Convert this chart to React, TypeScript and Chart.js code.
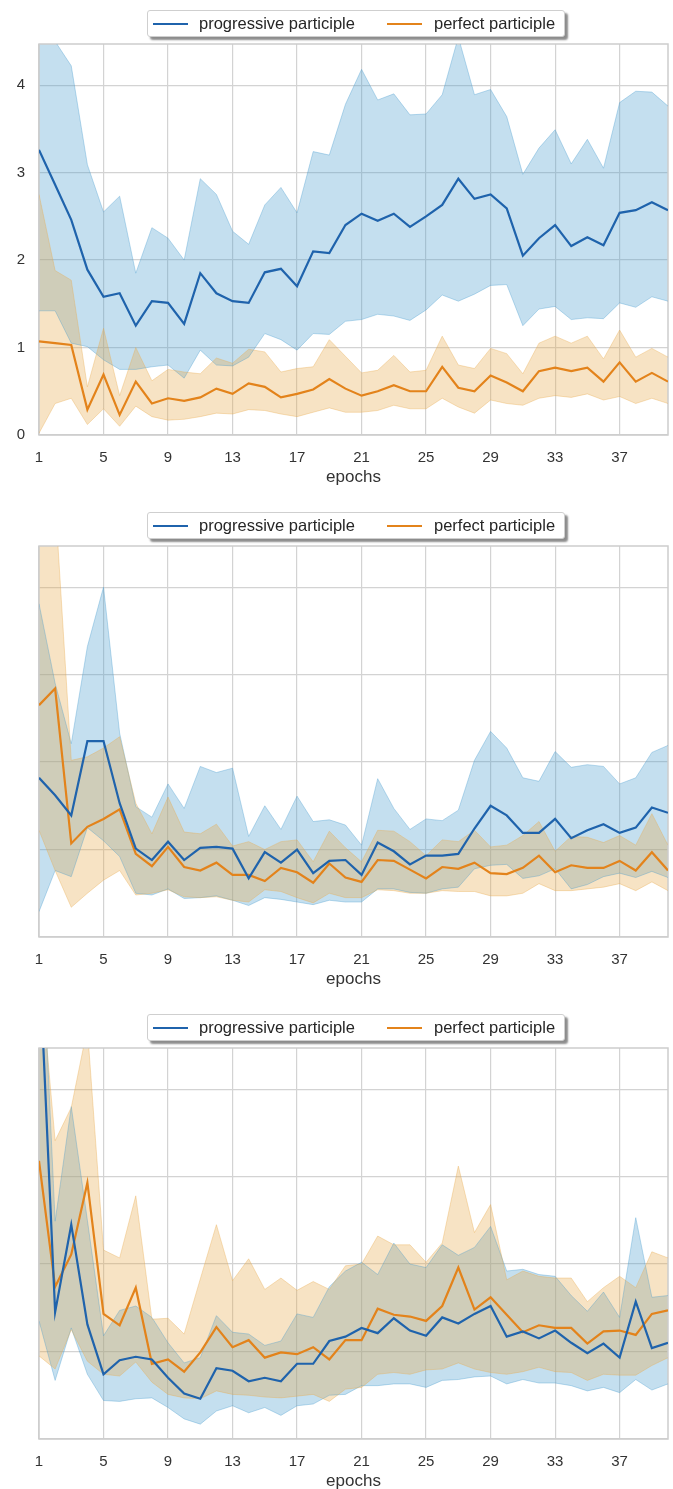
import React, { useEffect, useRef } from 'react';
import { Chart, registerables } from 'chart.js';

Chart.register(...registerables);

// ---------- data ----------
const EPOCHS = [1, 2, 3, 4, 5, 6, 7, 8, 9, 10, 11, 12, 13, 14, 15, 16, 17, 18, 19, 20, 21, 22, 23, 24, 25, 26, 27, 28, 29, 30, 31, 32, 33, 34, 35, 36, 37, 38, 39, 40];
const X_TICKS = [1, 5, 9, 13, 17, 21, 25, 29, 33, 37];
const Y_TICKS = [0, 1, 2, 3, 4];
const SERIES_NAMES = ['progressive participle', 'perfect participle'];
const X_TITLE = 'epochs';

// Panel 1
const C1_PROG_MEAN = [3.26, 2.86, 2.46, 1.89, 1.58, 1.62, 1.25, 1.53, 1.51, 1.27, 1.85, 1.62, 1.53, 1.51, 1.86, 1.90, 1.70, 2.10, 2.08, 2.40, 2.53, 2.45, 2.53, 2.38, 2.50, 2.63, 2.93, 2.70, 2.75, 2.59, 2.05, 2.25, 2.40, 2.16, 2.26, 2.17, 2.54, 2.57, 2.66, 2.57];
const C1_PROG_HIGH = [4.9, 4.5, 4.22, 3.09, 2.55, 2.73, 1.85, 2.37, 2.25, 2.00, 2.93, 2.75, 2.33, 2.18, 2.63, 2.83, 2.54, 3.24, 3.20, 3.78, 4.18, 3.83, 3.90, 3.66, 3.67, 3.89, 4.55, 3.89, 3.95, 3.64, 2.98, 3.28, 3.49, 3.10, 3.38, 3.05, 3.80, 3.93, 3.92, 3.76];
const C1_PROG_LOW = [1.42, 1.42, 1.05, 1.01, 0.86, 0.75, 0.75, 0.78, 0.80, 0.65, 0.97, 0.80, 0.79, 0.89, 1.16, 1.09, 0.97, 1.16, 1.15, 1.30, 1.32, 1.38, 1.36, 1.31, 1.43, 1.60, 1.53, 1.61, 1.71, 1.72, 1.25, 1.44, 1.47, 1.32, 1.34, 1.33, 1.51, 1.46, 1.58, 1.53];
const C1_PERF_MEAN = [1.07, 1.05, 1.03, 0.29, 0.69, 0.23, 0.61, 0.36, 0.42, 0.39, 0.43, 0.53, 0.47, 0.59, 0.55, 0.43, 0.47, 0.52, 0.64, 0.53, 0.45, 0.50, 0.57, 0.50, 0.50, 0.78, 0.54, 0.50, 0.68, 0.60, 0.50, 0.73, 0.77, 0.73, 0.77, 0.61, 0.83, 0.61, 0.71, 0.61];
const C1_PERF_HIGH = [2.75, 1.88, 1.77, 0.55, 1.22, 0.45, 1.00, 0.62, 0.75, 0.72, 0.70, 0.88, 0.82, 0.98, 0.95, 0.72, 0.76, 0.78, 1.09, 0.90, 0.71, 0.74, 0.91, 0.72, 0.74, 1.13, 0.80, 0.76, 0.99, 0.93, 0.70, 1.05, 1.13, 1.05, 1.13, 0.87, 1.20, 0.89, 0.99, 0.89];
const C1_PERF_LOW = [0.02, 0.36, 0.42, 0.12, 0.30, 0.10, 0.33, 0.21, 0.17, 0.18, 0.21, 0.25, 0.24, 0.29, 0.28, 0.24, 0.21, 0.26, 0.31, 0.26, 0.26, 0.28, 0.34, 0.30, 0.30, 0.42, 0.32, 0.25, 0.40, 0.36, 0.34, 0.42, 0.45, 0.43, 0.47, 0.40, 0.44, 0.36, 0.42, 0.36];

// Panel 2
const C2_PROG_MEAN = [1.82, 1.62, 1.39, 2.24, 2.24, 1.53, 1.01, 0.88, 1.09, 0.88, 1.02, 1.03, 1.01, 0.67, 0.97, 0.85, 1.00, 0.73, 0.87, 0.88, 0.71, 1.08, 0.98, 0.83, 0.93, 0.93, 0.95, 1.24, 1.50, 1.39, 1.19, 1.19, 1.35, 1.13, 1.22, 1.29, 1.19, 1.25, 1.48, 1.42];
const C2_PROG_HIGH = [3.81, 2.90, 2.21, 3.32, 4.00, 2.33, 1.49, 1.37, 1.75, 1.47, 1.95, 1.88, 1.93, 1.15, 1.50, 1.23, 1.61, 1.32, 1.34, 1.28, 1.05, 1.81, 1.47, 1.23, 1.35, 1.33, 1.45, 2.02, 2.35, 2.16, 1.82, 1.78, 2.12, 1.94, 1.97, 1.95, 1.75, 1.82, 2.11, 2.19];
const C2_PROG_LOW = [0.29, 0.76, 0.69, 1.25, 1.10, 0.92, 0.50, 0.48, 0.55, 0.44, 0.45, 0.47, 0.42, 0.36, 0.45, 0.43, 0.40, 0.37, 0.42, 0.40, 0.40, 0.55, 0.55, 0.51, 0.50, 0.55, 0.57, 0.78, 0.82, 0.83, 0.67, 0.70, 0.78, 0.55, 0.60, 0.69, 0.73, 0.68, 0.75, 0.68];
const C2_PERF_MEAN = [2.65, 2.84, 1.07, 1.26, 1.35, 1.46, 0.95, 0.81, 1.03, 0.80, 0.76, 0.85, 0.71, 0.71, 0.64, 0.79, 0.74, 0.62, 0.84, 0.68, 0.63, 0.88, 0.87, 0.77, 0.67, 0.80, 0.78, 0.85, 0.73, 0.72, 0.79, 0.93, 0.74, 0.82, 0.79, 0.79, 0.87, 0.76, 0.97, 0.76];
const C2_PERF_HIGH = [4.8, 5.0, 2.02, 2.06, 2.16, 2.29, 1.53, 1.18, 1.60, 1.20, 1.18, 1.29, 1.04, 1.09, 1.00, 1.09, 1.11, 0.86, 1.21, 1.02, 0.86, 1.22, 1.21, 1.09, 0.93, 1.11, 1.09, 1.22, 1.03, 1.05, 1.16, 1.32, 0.98, 1.15, 1.14, 1.08, 1.16, 1.05, 1.41, 1.05];
const C2_PERF_LOW = [1.22, 0.76, 0.34, 0.50, 0.65, 0.76, 0.48, 0.50, 0.54, 0.46, 0.45, 0.46, 0.42, 0.40, 0.54, 0.52, 0.45, 0.39, 0.50, 0.45, 0.45, 0.54, 0.53, 0.50, 0.50, 0.53, 0.52, 0.52, 0.47, 0.47, 0.50, 0.61, 0.53, 0.53, 0.55, 0.57, 0.61, 0.53, 0.63, 0.53];

// Panel 3
const C3_PROG_MEAN = [5.6, 1.45, 2.45, 1.31, 0.74, 0.90, 0.94, 0.91, 0.70, 0.52, 0.46, 0.81, 0.78, 0.66, 0.70, 0.66, 0.86, 0.86, 1.12, 1.17, 1.27, 1.21, 1.38, 1.24, 1.18, 1.39, 1.32, 1.43, 1.52, 1.17, 1.23, 1.15, 1.24, 1.10, 0.98, 1.09, 0.93, 1.57, 1.04, 1.10];
const C3_PROG_HIGH = [6.5, 2.49, 3.80, 2.50, 1.18, 1.47, 1.52, 1.39, 1.10, 0.87, 0.93, 1.41, 1.22, 1.20, 1.07, 1.12, 1.43, 1.39, 1.74, 1.92, 2.02, 1.88, 2.24, 2.00, 1.96, 2.22, 2.10, 2.19, 2.43, 1.92, 1.94, 1.88, 1.86, 1.64, 1.46, 1.68, 1.39, 2.53, 1.62, 1.64];
const C3_PROG_LOW = [1.35, 0.67, 1.27, 0.74, 0.44, 0.43, 0.46, 0.47, 0.36, 0.23, 0.17, 0.32, 0.38, 0.30, 0.36, 0.27, 0.38, 0.40, 0.50, 0.51, 0.61, 0.61, 0.63, 0.63, 0.59, 0.67, 0.68, 0.71, 0.72, 0.63, 0.68, 0.64, 0.64, 0.61, 0.55, 0.59, 0.53, 0.68, 0.56, 0.63];
const C3_PERF_MEAN = [3.18, 1.74, 2.11, 2.93, 1.43, 1.30, 1.73, 0.86, 0.91, 0.77, 0.99, 1.28, 1.05, 1.13, 0.93, 0.99, 0.97, 1.05, 0.91, 1.13, 1.13, 1.49, 1.42, 1.40, 1.35, 1.52, 1.96, 1.48, 1.62, 1.42, 1.22, 1.30, 1.27, 1.27, 1.09, 1.23, 1.24, 1.19, 1.43, 1.47];
const C3_PERF_HIGH = [5.5, 3.41, 3.79, 4.7, 2.16, 2.07, 2.78, 1.37, 1.38, 1.20, 1.83, 2.45, 1.81, 2.06, 1.71, 1.84, 1.70, 1.80, 1.71, 1.98, 2.00, 2.32, 2.22, 2.22, 2.02, 2.24, 3.12, 2.36, 2.68, 1.82, 1.92, 1.86, 1.84, 1.84, 1.57, 1.73, 1.86, 1.73, 2.14, 2.07];
const C3_PERF_LOW = [0.95, 0.80, 1.25, 0.89, 0.74, 0.72, 0.88, 0.65, 0.51, 0.47, 0.46, 0.55, 0.51, 0.50, 0.48, 0.47, 0.49, 0.51, 0.43, 0.57, 0.59, 0.74, 0.76, 0.74, 0.79, 0.80, 0.87, 0.80, 0.76, 0.74, 0.77, 0.82, 0.77, 0.76, 0.67, 0.74, 0.73, 0.73, 0.84, 0.93];

// ---------- style ----------
const FONT = "'Liberation Sans', Arial, sans-serif";
const BLUE = '#1f63ac';
const ORANGE = '#e3831b';
const BLUE_FILL = 'rgba(70,155,205,0.32)';
const ORANGE_FILL = 'rgba(232,170,75,0.33)';
const BLUE_EDGE = 'rgba(70,155,205,0.35)';
const ORANGE_EDGE = 'rgba(232,170,75,0.35)';
const GRID = '#d3d3d3';
const TEXT = '#333333';

const framePlugin = {
  id: 'frame',
  beforeDatasetsDraw(chart: any) {
    const { ctx, chartArea } = chart;
    const { left, top, right, bottom } = chartArea;
    ctx.save();
    ctx.strokeStyle = '#cdcdcd';
    ctx.lineWidth = 1.5;
    ctx.strokeRect(left, top, right - left, bottom - top);
    ctx.restore();
  },
};

type PanelProps = {
  progMean: number[]; progLow: number[]; progHigh: number[];
  perfMean: number[]; perfLow: number[]; perfHigh: number[];
  showYLabels: boolean;
};

function Legend() {
  const textStyle: React.CSSProperties = {
    position: 'absolute', top: 0, lineHeight: '25px', whiteSpace: 'nowrap',
  };
  const lineStyle: React.CSSProperties = {
    position: 'absolute', top: 12, width: 35, height: 2,
  };
  return (
    <div
      style={{
        position: 'absolute', left: 147, top: 10, width: 418, height: 27,
        boxSizing: 'border-box', border: '1px solid #cfcfcf', borderRadius: 3,
        background: '#ffffff', boxShadow: '3px 3px 2px rgba(0,0,0,0.45)',
        fontFamily: FONT, fontSize: 16.5, color: '#262626',
      }}
    >
      <span style={{ ...lineStyle, left: 5, background: BLUE }} />
      <span style={{ ...textStyle, left: 51 }}>{SERIES_NAMES[0]}</span>
      <span style={{ ...lineStyle, left: 239, background: ORANGE }} />
      <span style={{ ...textStyle, left: 286 }}>{SERIES_NAMES[1]}</span>
    </div>
  );
}

function Panel(props: PanelProps) {
  const ref = useRef<HTMLCanvasElement>(null);
  useEffect(() => {
    if (!ref.current) return;
    const pts = (arr: number[]) => EPOCHS.map((e, i) => ({ x: e, y: arr[i] }));
    const line = (label: string, arr: number[], color: string, width: number, fill: any, bg?: string) => ({
      label, data: pts(arr), borderColor: color, borderWidth: width, pointRadius: 0,
      pointHoverRadius: 0, tension: 0, fill, backgroundColor: bg || 'transparent',
    });
    const chart = new Chart(ref.current, {
      type: 'line',
      data: {
        datasets: [
          line(SERIES_NAMES[0], props.progMean, BLUE, 2.2, false),
          line(SERIES_NAMES[1], props.perfMean, ORANGE, 2.2, false),
          line('perf low', props.perfLow, ORANGE_EDGE, 1, false),
          line('perf high', props.perfHigh, ORANGE_EDGE, 1, '-1', ORANGE_FILL),
          line('prog low', props.progLow, BLUE_EDGE, 1, false),
          line('prog high', props.progHigh, BLUE_EDGE, 1, '-1', BLUE_FILL),
        ] as any,
      },
      options: {
        animation: false,
        responsive: false,
        maintainAspectRatio: false,
        events: [],
        layout: { padding: { top: 44, right: 5, left: 0, bottom: 0 } },
        plugins: {
          legend: { display: false },
          tooltip: { enabled: false },
          filler: { drawTime: 'beforeDatasetsDraw', propagate: false },
        } as any,
        scales: {
          x: {
            type: 'linear',
            min: 1,
            max: 40,
            afterBuildTicks: (s: any) => { s.ticks = X_TICKS.map((v) => ({ value: v })); },
            afterFit: (s: any) => { s.height = 67; },
            grid: { color: GRID, lineWidth: 1.2, drawTicks: false },
            border: { display: false },
            ticks: {
              padding: 14, color: TEXT, maxRotation: 0, autoSkip: false,
              font: { family: FONT, size: 15 },
              callback: (v: any) => String(v),
            },
            title: {
              display: true, text: X_TITLE, color: TEXT,
              font: { family: FONT, size: 17 },
              padding: { top: 0, bottom: 14 },
            },
          },
          y: {
            type: 'linear',
            min: 0,
            max: 4.47,
            afterBuildTicks: (s: any) => { s.ticks = Y_TICKS.map((v) => ({ value: v })); },
            afterFit: (s: any) => { s.width = 39; },
            grid: { color: GRID, lineWidth: 1.2, drawTicks: false },
            border: { display: false },
            ticks: {
              display: props.showYLabels, padding: 14, color: TEXT,
              font: { family: FONT, size: 15 },
              callback: (v: any) => String(v),
            },
          },
        } as any,
      },
      plugins: [framePlugin],
    });
    return () => chart.destroy();
  }, []);
  return (
    <div style={{ position: 'relative', width: 673, height: 502 }}>
      <canvas ref={ref} width={673} height={502} style={{ display: 'block', width: 673, height: 502 }} />
      <Legend />
    </div>
  );
}

export default function App() {
  return (
    <div style={{ width: 673, background: '#ffffff' }}>
      <style>{'body{margin:0;background:#ffffff;}'}</style>
      <Panel progMean={C1_PROG_MEAN} progLow={C1_PROG_LOW} progHigh={C1_PROG_HIGH}
        perfMean={C1_PERF_MEAN} perfLow={C1_PERF_LOW} perfHigh={C1_PERF_HIGH} showYLabels={true} />
      <Panel progMean={C2_PROG_MEAN} progLow={C2_PROG_LOW} progHigh={C2_PROG_HIGH}
        perfMean={C2_PERF_MEAN} perfLow={C2_PERF_LOW} perfHigh={C2_PERF_HIGH} showYLabels={false} />
      <Panel progMean={C3_PROG_MEAN} progLow={C3_PROG_LOW} progHigh={C3_PROG_HIGH}
        perfMean={C3_PERF_MEAN} perfLow={C3_PERF_LOW} perfHigh={C3_PERF_HIGH} showYLabels={false} />
    </div>
  );
}
